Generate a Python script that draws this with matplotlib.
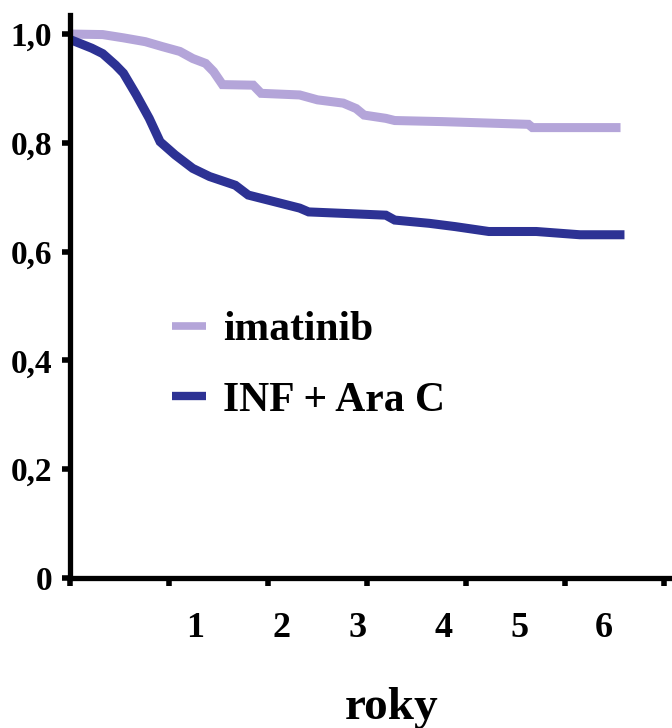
import matplotlib.pyplot as plt
from matplotlib.lines import Line2D

# data (years, survival fraction)
imatinib_x = [0, 0.33, 0.54, 0.76, 0.93, 1.11, 1.24, 1.37, 1.45, 1.54, 1.85, 1.93,
              2.32, 2.50, 2.76, 2.89, 2.97, 3.19, 3.28, 3.76, 4.63, 4.67, 5.56]
imatinib_y = [1.0, 0.999, 0.993, 0.986, 0.977, 0.968, 0.955, 0.946, 0.931, 0.907, 0.906, 0.891,
              0.888, 0.879, 0.873, 0.863, 0.851, 0.845, 0.841, 0.839, 0.834, 0.828, 0.828]
inf_x = [0.0, 0.22, 0.33, 0.46, 0.54, 0.67, 0.80, 0.91, 1.06, 1.24, 1.41, 1.67, 1.80,
         2.06, 2.32, 2.41, 3.19, 3.28, 3.63, 3.89, 4.23, 4.71, 5.15, 5.60]
inf_y = [0.99, 0.974, 0.964, 0.943, 0.928, 0.888, 0.845, 0.802, 0.778, 0.753, 0.738, 0.722, 0.704,
         0.692, 0.680, 0.673, 0.667, 0.658, 0.652, 0.646, 0.637, 0.637, 0.631, 0.631]
series_names = ['imatinib', 'INF + Ara C']
y_ticks = [0, 0.2, 0.4, 0.6, 0.8, 1.0]
y_tick_labels = ['0', '0,2', '0,4', '0,6', '0,8', '1,0']
x_ticks = [0, 1, 2, 3, 4, 5, 6]
x_tick_labels = ['1', '2', '3', '4', '5', '6']
x_label = 'roky'

LIGHT = '#b4a5d9'
DARK = '#2d3294'
SERIF = ['Liberation Serif', 'DejaVu Serif']
LW = 6.5

# x positions where the labels sit in the original (they are shifted vs. the ticks)
label_pos = [1.26, 2.14, 2.90, 3.77, 4.54, 5.39]

fig = plt.figure(figsize=(6.72, 7.28), dpi=100)
ax = fig.add_axes([70/672, 150/728, 602/672, 563/728])

ax.plot(imatinib_x, imatinib_y, color=LIGHT, lw=LW, solid_capstyle='butt', solid_joinstyle='miter')
ax.plot(inf_x, inf_y, color=DARK, lw=LW, solid_capstyle='butt', solid_joinstyle='miter')

ax.set_xlim(0, 6.08)
ax.set_ylim(0, 1.035)
for s in ['top', 'right']:
    ax.spines[s].set_visible(False)
for s in ['left', 'bottom']:
    ax.spines[s].set_linewidth(3.8)

ax.set_xticks(x_ticks)
ax.set_xticklabels([])
ax.set_yticks(y_ticks)
ax.set_yticklabels(y_tick_labels, fontsize=24, fontweight='bold', family=SERIF)
ax.tick_params(axis='both', direction='out', length=6, width=4, pad=7)

for xp, lab in zip(label_pos, x_tick_labels):
    ax.text(xp, -0.093, lab, ha='center', va='center', fontsize=26,
            fontweight='bold', family=SERIF, clip_on=False)

fig.text(392/672, 1 - 708/728, x_label, ha='center', va='center', fontsize=34,
         fontweight='bold', family=SERIF)

handles = [Line2D([], [], color=LIGHT, lw=5.5, solid_capstyle='butt'),
           Line2D([], [], color=DARK, lw=6, solid_capstyle='butt')]
ax.legend(handles, series_names, loc='upper left', bbox_to_anchor=(0.17, 0.474),
          frameon=False, borderpad=0, borderaxespad=0, handlelength=0.8,
          handletextpad=0.42, labelspacing=0.78,
          prop={'family': SERIF, 'weight': 'bold', 'size': 30})

fig.savefig('out.png', dpi=100)
